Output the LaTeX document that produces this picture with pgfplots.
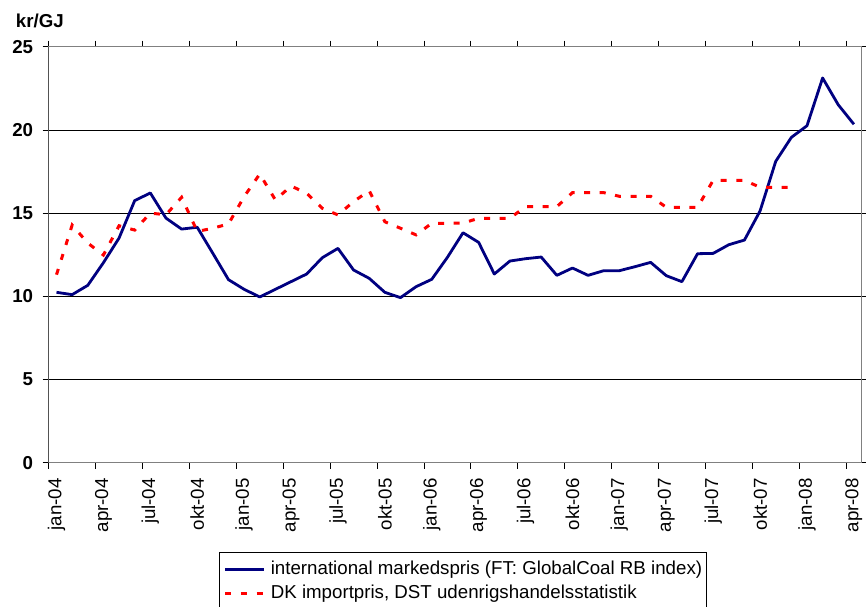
\documentclass[border=0pt]{standalone}
\usepackage{fontspec}
\setmainfont{Liberation Sans}
\usepackage{pgfplots}
\usepackage{pgfplotstable}
\pgfplotsset{compat=1.18}
\definecolor{navy}{HTML}{000080}
\definecolor{axgray}{HTML}{808080}
\newcommand\fs{\fontsize{18.7}{22}\selectfont}
\pgfplotstableread{
x v
0 10.24
1 10.10
2 10.66
3 12.02
4 13.50
5 15.75
6 16.21
7 14.70
8 14.04
9 14.15
10 12.58
11 11.00
12 10.42
13 9.96
14 10.42
15 10.88
16 11.34
17 12.32
18 12.88
19 11.58
20 11.08
21 10.24
22 9.92
23 10.58
24 11.02
25 12.34
26 13.82
27 13.24
28 11.34
29 12.12
30 12.26
31 12.36
32 11.26
33 11.70
34 11.26
35 11.54
36 11.54
37 11.78
38 12.04
39 11.24
40 10.88
41 12.56
42 12.58
43 13.10
44 13.38
45 15.13
46 18.11
47 19.55
48 20.25
49 23.12
50 21.51
51 20.34
}\intl
\pgfplotstableread{
x v
0 11.30
1 14.28
2 13.20
3 12.48
4 14.24
5 13.98
6 15.00
7 14.90
8 15.95
9 13.90
10 14.09
11 14.35
12 15.99
13 17.35
14 15.79
15 16.63
16 16.19
17 15.29
18 14.89
19 15.69
20 16.35
21 14.48
22 14.09
23 13.69
24 14.39
25 14.39
26 14.40
27 14.69
28 14.69
29 14.69
30 15.39
31 15.39
32 15.39
33 16.23
34 16.23
35 16.23
36 16.01
37 16.01
38 16.01
39 15.35
40 15.35
41 15.35
42 16.97
43 16.97
44 16.97
45 16.55
46 16.55
47 16.55
}\dk
\begin{document}
\begin{tikzpicture}
\begin{axis}[
  scale only axis, width=813pt, height=416pt,
  xmin=-0.5, xmax=51.5, ymin=0, ymax=25,
  xtick={0,3,...,51},
  xticklabels={jan-04,apr-04,jul-04,okt-04,jan-05,apr-05,jul-05,okt-05,jan-06,apr-06,jul-06,okt-06,jan-07,apr-07,jul-07,okt-07,jan-08,apr-08},
  minor xtick={-0.5,2.5,...,51.5},
  ytick={0,5,...,25}, minor ytick={0,5,...,25},
  major tick length=0pt, minor tick length=6pt,
  tick align=outside,
  tick style={black, line width=0.8pt},
  ymajorgrids, major grid style={black, line width=0.8pt},
  axis line style={axgray, line width=1pt},
  x tick label style={rotate=90, anchor=east, inner sep=0pt, font=\fs},
  y tick label style={anchor=east, inner sep=0pt, font=\fs\bfseries},
  xticklabel shift=15.3pt, yticklabel shift=15.4pt,
  /pgf/number format/assume math mode=true,
  legend cell align=left,
  legend image code/.code={\draw[#1] (0pt,0pt) -- (39pt,0pt);},
  legend style={at={(rel axis cs:0.5096,-0.214)}, anchor=north, draw=black, line width=1pt,
    fill=white, font=\fs, inner xsep=4pt, inner ysep=8.5pt, row sep=6.5pt, column sep=5pt,
    nodes={inner sep=0pt, text height=13.5pt, text depth=4pt, anchor=west}},
]
\addplot[navy, line width=2.8pt, line join=round] table[x=x, y=v] {\intl};
\addlegendentry{international markedspris (FT: GlobalCoal RB index)}
\addplot[red, line width=3pt, dash pattern=on 6pt off 9.6pt] table[x=x, y=v] {\dk};
\addlegendentry{DK importpris, DST udenrigshandelsstatistik}
\draw[black, line width=1pt] (rel axis cs:0,0) -- (rel axis cs:0,1);
\end{axis}
\node[anchor=west, font=\fs\bfseries, inner sep=0pt] at (-33pt,442pt) {kr/GJ};
\pgfresetboundingbox
\path[use as bounding box] (-48.7pt,-143.3pt) rectangle (817.3pt,462.7pt);
\end{tikzpicture}
\end{document}
